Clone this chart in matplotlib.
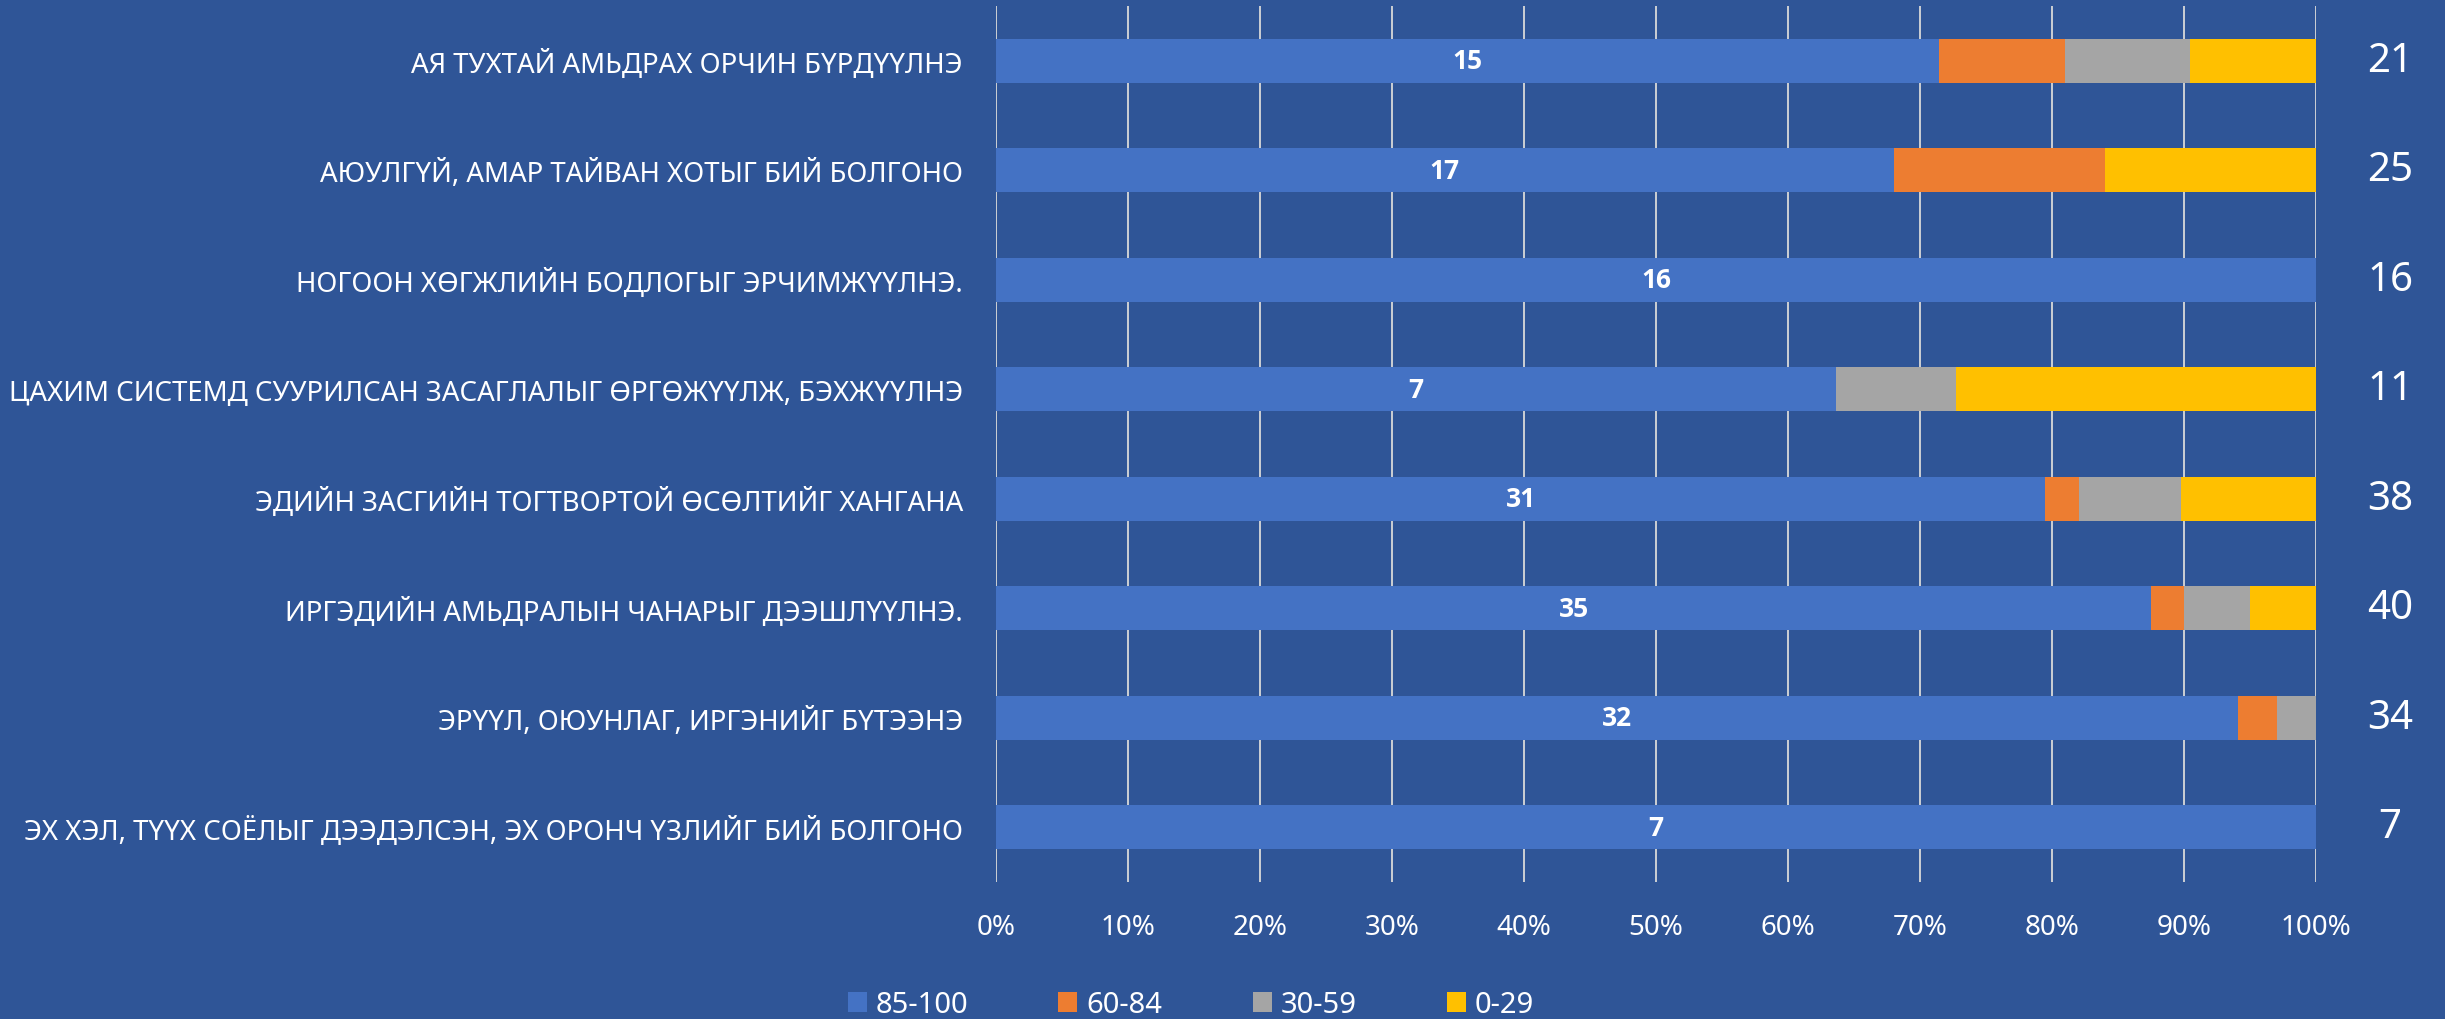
import numpy as np
import matplotlib.pyplot as plt

# categories, top to bottom
categories = [
    "АЯ ТУХТАЙ АМЬДРАХ ОРЧИН БҮРДҮҮЛНЭ",
    "АЮУЛГҮЙ, АМАР ТАЙВАН ХОТЫГ БИЙ БОЛГОНО",
    "НОГООН ХӨГЖЛИЙН БОДЛОГЫГ ЭРЧИМЖҮҮЛНЭ.",
    "ЦАХИМ СИСТЕМД СУУРИЛСАН ЗАСАГЛАЛЫГ ӨРГӨЖҮҮЛЖ, БЭХЖҮҮЛНЭ",
    "ЭДИЙН ЗАСГИЙН ТОГТВОРТОЙ ӨСӨЛТИЙГ ХАНГАНА",
    "ИРГЭДИЙН АМЬДРАЛЫН ЧАНАРЫГ ДЭЭШЛҮҮЛНЭ.",
    "ЭРҮҮЛ, ОЮУНЛАГ, ИРГЭНИЙГ БҮТЭЭНЭ",
    "ЭХ ХЭЛ, ТҮҮХ СОЁЛЫГ ДЭЭДЭЛСЭН, ЭХ ОРОНЧ ҮЗЛИЙГ БИЙ БОЛГОНО",
]

# counts per score band
s85_100 = [15, 17, 16, 7, 31, 35, 32, 7]
s60_84 = [2, 4, 0, 0, 1, 1, 1, 0]
s30_59 = [2, 0, 0, 1, 3, 2, 1, 0]
s0_29 = [2, 4, 0, 3, 4, 2, 0, 0]
totals = [21, 25, 16, 11, 38, 40, 34, 7]

series = [s85_100, s60_84, s30_59, s0_29]
names = ["85-100", "60-84", "30-59", "0-29"]
colors = ["#4472C4", "#ED7D31", "#A5A5A5", "#FFC000"]
bg = "#2F5597"

plt.rcParams['font.family'] = ['Noto Sans', 'DejaVu Sans']

data = np.array(series, dtype=float)
pct = data / data.sum(axis=0) * 100

fig = plt.figure(figsize=(24.45, 10.2), dpi=100, facecolor=bg)
ax = fig.add_axes([0.4074, 0.1343, 0.5399, 0.8588])
ax.set_facecolor(bg)

y = np.arange(len(categories))
left = np.zeros(len(categories))
for i in range(4):
    ax.barh(y, pct[i], left=left, height=0.4, color=colors[i], label=names[i], zorder=3)
    left += pct[i]

# value labels on the first band, totals on the right
for j in range(len(categories)):
    ax.text(pct[0][j] / 2, y[j], str(s85_100[j]), color="white", fontsize=19,
            fontweight="bold", family=["Open Sans", "DejaVu Sans"],
            ha="center", va="center", zorder=4)
    ax.text(1.056, y[j], str(totals[j]), color="white", fontsize=29,
            ha="center", va="center", transform=ax.get_yaxis_transform())

ax.set_ylim(len(categories) - 0.5, -0.5)
ax.set_xlim(0, 100)
ax.set_xticks(np.arange(0, 101, 10))
ax.set_xticklabels([f"{t}%" for t in range(0, 101, 10)])
ax.set_yticks(y)
ax.set_yticklabels(categories)
ax.tick_params(axis="x", length=0, pad=22, labelsize=20, labelcolor="white")
ax.tick_params(axis="y", length=0, pad=24, labelsize=19.9, labelcolor="white")
ax.grid(axis="x", color="#D9D9D9", linewidth=1.3, zorder=0)
for s in ax.spines.values():
    s.set_visible(False)

fig.legend(loc="center", bbox_to_anchor=(0.487, 0.014), ncol=4, frameon=False,
           fontsize=21, labelcolor="white", handlelength=0.65, handleheight=0.65,
           handletextpad=0.3, columnspacing=3.1)

fig.savefig("out.png", facecolor=bg)
